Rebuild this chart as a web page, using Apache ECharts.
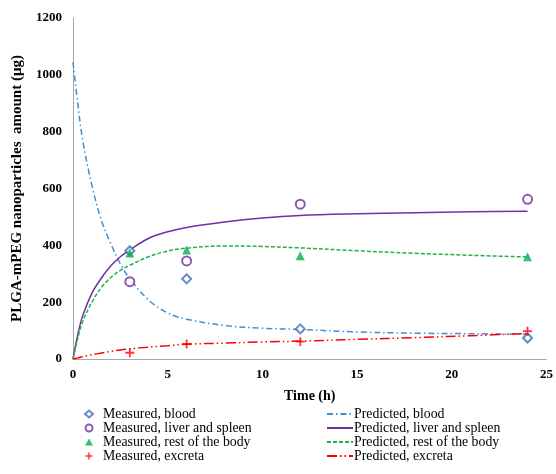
<!DOCTYPE html>
<html>
<head>
<meta charset="utf-8">
<script src="https://cdn.jsdelivr.net/npm/echarts@6/dist/echarts.min.js"></script>
<style>
  html, body { margin: 0; padding: 0; background: #fff; }
  #chart { width: 556px; height: 474px; }
</style>
</head>
<body>
<div id="chart"></div>
<script>
// Sampling times (h)
const measuredTimes = [3, 6, 12, 24];
const predictedTimes = [0, 0.25, 0.5, 1, 1.5, 2, 2.5, 3, 4, 5, 6, 8, 10, 12, 15, 18, 21, 24];

// Measured amounts (µg)
const measuredBlood = [381, 282, 106, 74];
const measuredLiver = [272, 345, 545, 562];
const measuredRest = [373, 384, 363, 360];
const measuredExcreta = [22, 53, 61, 98];

// Model predictions (µg)
const predictedBlood = [1045, 900, 775, 610, 488, 405, 335, 282, 207, 162, 140, 118, 108, 104, 95, 91, 89, 87];
const predictedLiver = [0, 85, 150, 232, 285, 328, 360, 384, 425, 448, 463, 482, 496, 505, 511, 515, 518, 520];
const predictedRest = [0, 72, 130, 200, 252, 287, 312, 330, 360, 380, 390, 398, 396, 391, 381, 372, 365, 359];
const predictedExcreta = [0, 4, 8, 15, 21, 27, 32, 36, 42, 47, 52, 56, 60, 63, 69, 75, 82, 90];

const xTicks = { min: 0, max: 25, interval: 5 };
const yTicks = { min: 0, max: 1200, interval: 200 };

const SERIF = '"Liberation Serif", "Times New Roman", serif';
const crossPath = 'path://M4,0 L6,0 L6,4 L10,4 L10,6 L6,6 L6,10 L4,10 L4,6 L0,6 L0,4 L4,4 Z';

const pairs = (ts, vs) => ts.map((t, i) => [t, vs[i]]);

const measured = (name, values, symbol, size, style) => ({
  name, type: 'scatter', data: pairs(measuredTimes, values),
  symbol, symbolSize: size, itemStyle: style, z: 5
});

const predicted = (name, values, color, width, type) => ({
  name, type: 'line', data: pairs(predictedTimes, values),
  smooth: 0.35, showSymbol: false, symbol: 'none',
  lineStyle: { color, width, type }, itemStyle: { color }, z: 3
});

const legendText = { fontFamily: SERIF, fontSize: 13.8, color: '#000', lineHeight: 14 };

const option = {
  animation: false,
  backgroundColor: '#fff',
  grid: { left: 73, right: 8, top: 18, bottom: 115 },
  xAxis: {
    type: 'value', min: xTicks.min, max: xTicks.max, interval: xTicks.interval,
    name: 'Time (h)', nameLocation: 'middle', nameGap: 30,
    nameTextStyle: { fontFamily: SERIF, fontWeight: 'bold', fontSize: 14, color: '#000' },
    axisLine: { lineStyle: { color: '#a6a6a6', width: 1 } },
    axisTick: { show: false },
    splitLine: { show: false },
    axisLabel: { fontFamily: SERIF, fontWeight: 'bold', fontSize: 13, color: '#000', margin: 9, formatter: v => String(v) }
  },
  yAxis: {
    type: 'value', min: yTicks.min, max: yTicks.max, interval: yTicks.interval,
    name: 'PLGA-mPEG nanoparticles  amount (μg)', nameLocation: 'middle', nameGap: 44,
    nameTextStyle: { fontFamily: SERIF, fontWeight: 'bold', fontSize: 15, color: '#000' },
    axisLine: { show: true, lineStyle: { color: '#a6a6a6', width: 1 } },
    axisTick: { show: false },
    splitLine: { show: false },
    axisLabel: { fontFamily: SERIF, fontWeight: 'bold', fontSize: 13, color: '#000', margin: 11, formatter: v => String(v) }
  },
  legend: [
    {
      orient: 'vertical', left: 84, top: 407, padding: 0, itemGap: 0, itemWidth: 8, itemHeight: 7,
      textStyle: Object.assign({ padding: [0, 0, 0, 5] }, legendText),
      data: ['Measured, blood', 'Measured, liver and spleen', 'Measured, rest of the body', 'Measured, excreta']
    },
    {
      orient: 'vertical', left: 326, top: 407, padding: 0, itemGap: 0, itemWidth: 26, itemHeight: 7,
      itemStyle: { opacity: 0 },
      textStyle: Object.assign({ padding: [0, 0, 0, -4] }, legendText),
      data: ['Predicted, blood', 'Predicted, liver and spleen', 'Predicted, rest of the body', 'Predicted, excreta']
    }
  ],
  series: [
    predicted('Predicted, blood', predictedBlood, '#3a8fd6', 1.5, [6, 3, 1.5, 3]),
    predicted('Predicted, liver and spleen', predictedLiver, '#7030a0', 1.5, 'solid'),
    predicted('Predicted, rest of the body', predictedRest, '#22b04b', 1.5, [4, 2]),
    predicted('Predicted, excreta', predictedExcreta, '#ff0000', 1.5, [10, 3, 1.5, 3, 1.5, 3]),
    measured('Measured, blood', measuredBlood, 'diamond', 9, { color: '#fff', borderColor: '#3f6eb5', borderWidth: 2 }),
    measured('Measured, liver and spleen', measuredLiver, 'circle', 9, { color: '#fff', borderColor: '#7030a0', borderWidth: 2 }),
    measured('Measured, rest of the body', measuredRest, 'triangle', 9, { color: '#00b050' }),
    measured('Measured, excreta', measuredExcreta, crossPath, 9, { color: '#ff0000' })
  ]
};

const chart = echarts.init(document.getElementById('chart'), null, { renderer: 'canvas' });
chart.setOption(option);
</script>
</body>
</html>
